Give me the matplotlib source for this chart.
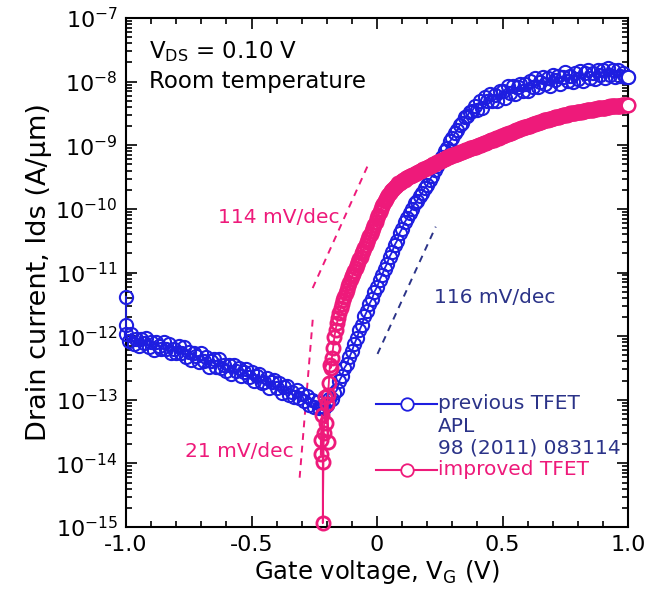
import numpy as np
import matplotlib.pyplot as plt
from matplotlib.ticker import FixedLocator, LogLocator, MultipleLocator, NullFormatter

plt.rcParams["font.family"] = ["DejaVu Sans"]
plt.rcParams["mathtext.default"] = "regular"

BLUE = "#1e1ee0"
NAVY = "#2b3388"
PINK = "#ee1a7a"

# previous TFET (APL 98 (2011) 083114): two points at the sweep start, then 10 mV steps
prev_vg_start = [-1.0, -1.0]
prev_log_start = [-11.38, -11.82]
prev_vg = np.linspace(-1.0, 1.0, 201)
prev_log = [
    -11.96, -12.07, -11.96, -12.13, -12.05, -12.16, -12.04, -12.11, -12.03, -12.17,
    -12.09, -12.22, -12.10, -12.15, -12.21, -12.09, -12.21, -12.13, -12.27, -12.20,
    -12.27, -12.16, -12.26, -12.17, -12.33, -12.25, -12.37, -12.26, -12.31, -12.41,
    -12.27, -12.39, -12.33, -12.48, -12.39, -12.36, -12.48, -12.36, -12.50, -12.45,
    -12.55, -12.46, -12.59, -12.45, -12.55, -12.50, -12.63, -12.56, -12.51, -12.65,
    -12.57, -12.71, -12.63, -12.59, -12.73, -12.72, -12.66, -12.81, -12.72, -12.69,
    -12.82, -12.74, -12.90, -12.80, -12.78, -12.93, -12.88, -12.96, -12.85, -12.97,
    -12.91, -13.02, -12.94, -13.08, -13.00, -13.11, -13.03, -13.13, -13.10, -13.13,
    -13.08, -12.99, -12.99, -12.90, -12.85, -12.70, -12.63, -12.50, -12.44, -12.33,
    -12.24, -12.12, -12.03, -11.91, -11.82, -11.69, -11.61, -11.49, -11.42, -11.30,
    -11.23, -11.12, -11.04, -10.94, -10.86, -10.75, -10.68, -10.57, -10.50, -10.38,
    -10.31, -10.21, -10.15, -10.06, -10.00, -9.91, -9.87, -9.79, -9.75, -9.67,
    -9.63, -9.54, -9.48, -9.39, -9.33, -9.24, -9.19, -9.09, -9.04, -8.94,
    -8.89, -8.81, -8.76, -8.68, -8.65, -8.56, -8.54, -8.47, -8.46, -8.38,
    -8.44, -8.31, -8.42, -8.24, -8.31, -8.19, -8.30, -8.21, -8.30, -8.15,
    -8.15, -8.25, -8.07, -8.18, -8.07, -8.20, -8.09, -8.03, -8.14, -8.04,
    -8.14, -7.99, -8.08, -7.94, -8.09, -8.00, -7.93, -8.04, -7.95, -8.07,
    -7.89, -7.98, -7.91, -8.03, -7.92, -7.85, -7.99, -7.91, -8.01, -7.86,
    -7.96, -7.84, -7.99, -7.86, -7.81, -7.95, -7.87, -7.96, -7.82, -7.90,
    -7.82, -7.94, -7.79, -7.90, -7.81, -7.93, -7.81, -7.91, -7.86, -7.92,
    -7.93,
]

# improved TFET: noisy onset around -0.2 V, then 5 mV steps up to 1.0 V
impr_vg_onset = [-0.224, -0.224, -0.220, -0.216, -0.216, -0.212, -0.208,
                 -0.204, -0.200, -0.196, -0.196, -0.192, -0.188, -0.184]
impr_log_onset = [-13.86, -13.64, -13.24, -13.98, -14.94, -13.53, -12.96,
                  -13.37, -13.07, -13.67, -12.93, -12.74, -12.46, -12.50]
impr_vg = np.linspace(-0.18, 1.0, 237)
impr_log = [
    -12.35, -12.18, -12.02, -11.90, -11.80, -11.71, -11.63, -11.56, -11.50, -11.44,
    -11.38, -11.33, -11.27, -11.21, -11.16, -11.11, -11.06, -11.02, -10.97, -10.93,
    -10.88, -10.84, -10.79, -10.75, -10.70, -10.66, -10.61, -10.57, -10.52, -10.48,
    -10.43, -10.39, -10.34, -10.30, -10.25, -10.20, -10.15, -10.10, -10.05, -10.00,
    -9.96, -9.92, -9.88, -9.84, -9.81, -9.78, -9.75, -9.72, -9.70, -9.68,
    -9.66, -9.64, -9.62, -9.60, -9.59, -9.57, -9.56, -9.55, -9.54, -9.52,
    -9.51, -9.50, -9.49, -9.48, -9.47, -9.46, -9.45, -9.44, -9.43, -9.42,
    -9.41, -9.40, -9.39, -9.38, -9.37, -9.36, -9.35, -9.34, -9.33, -9.32,
    -9.31, -9.30, -9.29, -9.28, -9.27, -9.26, -9.25, -9.24, -9.23, -9.22,
    -9.21, -9.20, -9.19, -9.18, -9.17, -9.17, -9.16, -9.15, -9.14, -9.13,
    -9.13, -9.12, -9.11, -9.10, -9.10, -9.09, -9.08, -9.07, -9.07, -9.06,
    -9.05, -9.04, -9.04, -9.03, -9.02, -9.02, -9.01, -9.00, -8.99, -8.99,
    -8.98, -8.97, -8.96, -8.96, -8.95, -8.94, -8.93, -8.92, -8.92, -8.91,
    -8.90, -8.89, -8.88, -8.88, -8.87, -8.86, -8.85, -8.84, -8.84, -8.83,
    -8.82, -8.81, -8.80, -8.80, -8.79, -8.78, -8.77, -8.76, -8.76, -8.75,
    -8.74, -8.73, -8.73, -8.72, -8.71, -8.71, -8.70, -8.69, -8.69, -8.68,
    -8.67, -8.67, -8.66, -8.65, -8.65, -8.64, -8.63, -8.63, -8.62, -8.61,
    -8.61, -8.60, -8.60, -8.59, -8.58, -8.58, -8.57, -8.57, -8.56, -8.56,
    -8.55, -8.55, -8.54, -8.54, -8.53, -8.53, -8.52, -8.52, -8.51, -8.51,
    -8.50, -8.50, -8.50, -8.49, -8.49, -8.48, -8.48, -8.48, -8.47, -8.47,
    -8.46, -8.46, -8.46, -8.45, -8.45, -8.45, -8.44, -8.44, -8.44, -8.43,
    -8.43, -8.43, -8.42, -8.42, -8.42, -8.42, -8.41, -8.41, -8.41, -8.40,
    -8.40, -8.40, -8.39, -8.39, -8.39, -8.39, -8.38, -8.38, -8.38, -8.38,
    -8.38, -8.37, -8.37, -8.37, -8.37, -8.36, -8.37,
]

# subthreshold-swing guides: (mV/dec, centre Vg, centre log10 Id, span in decades, colour)
ss_guides = [
    (114, -0.144, -10.26, 1.97, PINK),
    (21, -0.282, -12.975, 2.5, PINK),
    (116, 0.118, -11.28, 2.0, NAVY),
]
ss_labels = [
    ("114 mV/dec", -0.39, -10.14, PINK),
    ("21 mV/dec", -0.55, -13.82, PINK),
    ("116 mV/dec", 0.468, -11.40, NAVY),
]

decades = list(range(-15, -6))

fig = plt.figure(figsize=(6.48, 6.04), dpi=100)
ax = fig.add_axes([126 / 648, 1 - 527 / 604, 502 / 648, 509 / 604])
ax.set_yscale("log")


def draw_sweep(vg, i_d, color, mew, z):
    # open rings packed along the sweep, last point drawn filled white on top
    ax.plot(vg, i_d, "-o", color=color, lw=1.3, ms=9.5, mew=mew,
            mfc="none", mec=color, clip_on=False, zorder=z)
    ax.plot(vg[-1:], i_d[-1:], "o", ms=9.5, mew=1.5, mfc="white", mec=color,
            clip_on=False, zorder=z + 0.5)


vg_b = np.concatenate([prev_vg_start, prev_vg])
id_b = 10.0 ** np.concatenate([prev_log_start, prev_log])
draw_sweep(vg_b, id_b, BLUE, 1.5, 3)

vg_p = np.concatenate([impr_vg_onset, impr_vg])
id_p = 10.0 ** np.concatenate([impr_log_onset, impr_log])
draw_sweep(vg_p, id_p, PINK, 2.0, 4)

for ss, vc, lc, span, col in ss_guides:
    logs = np.array([lc - span / 2, lc + span / 2])
    vgs = vc + ss / 1000.0 * (logs - lc)
    ax.plot(vgs, 10.0 ** logs, ls=(0, (3.5, 3)), color=col, lw=1.4, zorder=2)

for txt, x, lg, col in ss_labels:
    ax.text(x, 10.0 ** lg, txt, color=col, fontsize=14.5, ha="center", va="center")

ax.text(-0.908, 10 ** -7.535, "V$_{DS}$ = 0.10 V", fontsize=16.5, va="center")
ax.text(-0.908, 10 ** -8.0, "Room temperature", fontsize=16.5, va="center")

# legend drawn by hand so the marker lines up with the first text row
tr = ax.transAxes
ax.plot([0.498, 0.62], [0.241, 0.241], color=BLUE, lw=1.5, transform=tr, clip_on=False)
ax.plot([0.56], [0.241], "o", ms=9, mfc="white", mec=BLUE, mew=1.3, transform=tr)
ax.plot([0.498, 0.62], [0.112, 0.112], color=PINK, lw=1.5, transform=tr, clip_on=False)
ax.plot([0.56], [0.112], "o", ms=9, mfc="white", mec=PINK, mew=1.3, transform=tr)
ax.text(0.621, 0.243, "previous TFET", color=NAVY, fontsize=14.5, va="center", transform=tr)
ax.text(0.621, 0.198, "APL", color=NAVY, fontsize=14.5, va="center", transform=tr)
ax.text(0.621, 0.155, "98 (2011) 083114", color=NAVY, fontsize=14.5, va="center", transform=tr)
ax.text(0.621, 0.112, "improved TFET", color=PINK, fontsize=14.5, va="center", transform=tr)

ax.set_xlim(-1.0, 1.0)
ax.set_ylim(1e-15, 1e-7)
ax.set_xticks([-1.0, -0.5, 0.0, 0.5, 1.0])
ax.set_xticklabels(["-1.0", "-0.5", "0", "0.5", "1.0"])
ax.xaxis.set_minor_locator(MultipleLocator(0.1))
ax.yaxis.set_major_locator(FixedLocator([10.0 ** d for d in decades]))
ax.set_yticklabels(["10$^{%d}$" % d for d in decades])
ax.yaxis.set_minor_locator(LogLocator(base=10, subs=np.arange(2, 10), numticks=20))
ax.yaxis.set_minor_formatter(NullFormatter())

ax.tick_params(which="both", direction="in", top=True, right=True, width=1.2,
               labelsize=16, pad=6)
ax.tick_params(which="major", length=8)
ax.tick_params(which="minor", length=4)
for sp in ax.spines.values():
    sp.set_linewidth(1.5)

ax.set_xlabel("Gate voltage, V$_{G}$ (V)", fontsize=17.5, labelpad=2)
ax.set_ylabel("Drain current, Ids (A/\u03bcm)", fontsize=19.5, labelpad=2)

fig.savefig("out.png", dpi=100)
